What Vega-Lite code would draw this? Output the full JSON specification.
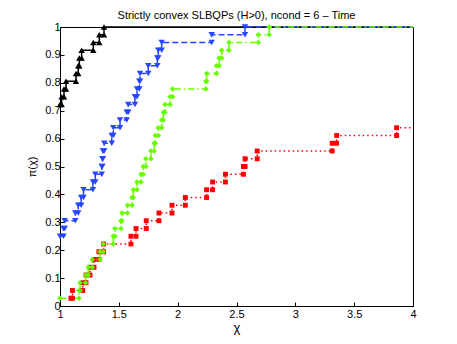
{
  "$schema": "https://vega.github.io/schema/vega-lite/v6.json",
  "width": 353,
  "height": 279,
  "autosize": "none",
  "padding": {"left": 60, "top": 27, "right": 44, "bottom": 38},
  "background": "white",
  "title": {"text": "Strictly convex SLBQPs (H>0), ncond = 6 – Time", "fontSize": 11, "fontWeight": "normal", "font": "Liberation Sans", "color": "black", "offset": 3, "dy": 3},
  "config": {"view": {"stroke": "black", "strokeWidth": 1}},
  "data": {"values": [
    {"s":"P2GP (CG)","x":1,"y":0.7222},{"s":"P2GP (CG)","x":1.014,"y":0.7222},{"s":"P2GP (CG)","x":1.014,"y":0.75},{"s":"P2GP (CG)","x":1.034,"y":0.75},{"s":"P2GP (CG)","x":1.034,"y":0.7778},{"s":"P2GP (CG)","x":1.051,"y":0.7778},{"s":"P2GP (CG)","x":1.051,"y":0.8056},{"s":"P2GP (CG)","x":1.136,"y":0.8056},{"s":"P2GP (CG)","x":1.136,"y":0.8333},{"s":"P2GP (CG)","x":1.155,"y":0.8333},{"s":"P2GP (CG)","x":1.155,"y":0.8611},{"s":"P2GP (CG)","x":1.164,"y":0.8611},{"s":"P2GP (CG)","x":1.164,"y":0.8889},{"s":"P2GP (CG)","x":1.184,"y":0.8889},{"s":"P2GP (CG)","x":1.184,"y":0.9167},{"s":"P2GP (CG)","x":1.283,"y":0.9167},{"s":"P2GP (CG)","x":1.283,"y":0.9444},{"s":"P2GP (CG)","x":1.334,"y":0.9444},{"s":"P2GP (CG)","x":1.334,"y":0.9722},{"s":"P2GP (CG)","x":1.374,"y":0.9722},{"s":"P2GP (CG)","x":1.374,"y":1},{"s":"P2GP (CG)","x":4,"y":1},
    {"s":"P2GP (SDC)","x":1,"y":0.25},{"s":"P2GP (SDC)","x":1.03,"y":0.25},{"s":"P2GP (SDC)","x":1.03,"y":0.2778},{"s":"P2GP (SDC)","x":1.04,"y":0.2778},{"s":"P2GP (SDC)","x":1.04,"y":0.3056},{"s":"P2GP (SDC)","x":1.13,"y":0.3056},{"s":"P2GP (SDC)","x":1.13,"y":0.3333},{"s":"P2GP (SDC)","x":1.155,"y":0.3333},{"s":"P2GP (SDC)","x":1.155,"y":0.3611},{"s":"P2GP (SDC)","x":1.18,"y":0.3611},{"s":"P2GP (SDC)","x":1.18,"y":0.3889},{"s":"P2GP (SDC)","x":1.2,"y":0.3889},{"s":"P2GP (SDC)","x":1.2,"y":0.4167},{"s":"P2GP (SDC)","x":1.28,"y":0.4167},{"s":"P2GP (SDC)","x":1.28,"y":0.4444},{"s":"P2GP (SDC)","x":1.3,"y":0.4444},{"s":"P2GP (SDC)","x":1.3,"y":0.4722},{"s":"P2GP (SDC)","x":1.355,"y":0.4722},{"s":"P2GP (SDC)","x":1.355,"y":0.5},{"s":"P2GP (SDC)","x":1.36,"y":0.5},{"s":"P2GP (SDC)","x":1.36,"y":0.5278},{"s":"P2GP (SDC)","x":1.365,"y":0.5278},{"s":"P2GP (SDC)","x":1.365,"y":0.5556},{"s":"P2GP (SDC)","x":1.376,"y":0.5556},{"s":"P2GP (SDC)","x":1.376,"y":0.5833},{"s":"P2GP (SDC)","x":1.44,"y":0.5833},{"s":"P2GP (SDC)","x":1.44,"y":0.6111},{"s":"P2GP (SDC)","x":1.453,"y":0.6111},{"s":"P2GP (SDC)","x":1.453,"y":0.6389},{"s":"P2GP (SDC)","x":1.51,"y":0.6389},{"s":"P2GP (SDC)","x":1.51,"y":0.6667},{"s":"P2GP (SDC)","x":1.567,"y":0.6667},{"s":"P2GP (SDC)","x":1.567,"y":0.6944},{"s":"P2GP (SDC)","x":1.58,"y":0.6944},{"s":"P2GP (SDC)","x":1.58,"y":0.7222},{"s":"P2GP (SDC)","x":1.637,"y":0.7222},{"s":"P2GP (SDC)","x":1.637,"y":0.75},{"s":"P2GP (SDC)","x":1.654,"y":0.75},{"s":"P2GP (SDC)","x":1.654,"y":0.7778},{"s":"P2GP (SDC)","x":1.674,"y":0.7778},{"s":"P2GP (SDC)","x":1.674,"y":0.8056},{"s":"P2GP (SDC)","x":1.68,"y":0.8056},{"s":"P2GP (SDC)","x":1.68,"y":0.8333},{"s":"P2GP (SDC)","x":1.75,"y":0.8333},{"s":"P2GP (SDC)","x":1.75,"y":0.8611},{"s":"P2GP (SDC)","x":1.827,"y":0.8611},{"s":"P2GP (SDC)","x":1.827,"y":0.8889},{"s":"P2GP (SDC)","x":1.835,"y":0.8889},{"s":"P2GP (SDC)","x":1.835,"y":0.9167},{"s":"P2GP (SDC)","x":1.864,"y":0.9167},{"s":"P2GP (SDC)","x":1.864,"y":0.9444},{"s":"P2GP (SDC)","x":2.289,"y":0.9444},{"s":"P2GP (SDC)","x":2.289,"y":0.9722},{"s":"P2GP (SDC)","x":2.572,"y":0.9722},{"s":"P2GP (SDC)","x":2.572,"y":1},{"s":"P2GP (SDC)","x":4,"y":1},
    {"s":"GPCG–like","x":1.093,"y":0.0278},{"s":"GPCG–like","x":1.106,"y":0.0278},{"s":"GPCG–like","x":1.106,"y":0.0556},{"s":"GPCG–like","x":1.193,"y":0.0556},{"s":"GPCG–like","x":1.193,"y":0.0833},{"s":"GPCG–like","x":1.221,"y":0.0833},{"s":"GPCG–like","x":1.221,"y":0.1111},{"s":"GPCG–like","x":1.255,"y":0.1111},{"s":"GPCG–like","x":1.255,"y":0.1389},{"s":"GPCG–like","x":1.289,"y":0.1389},{"s":"GPCG–like","x":1.289,"y":0.1667},{"s":"GPCG–like","x":1.331,"y":0.1667},{"s":"GPCG–like","x":1.331,"y":0.1944},{"s":"GPCG–like","x":1.37,"y":0.1944},{"s":"GPCG–like","x":1.37,"y":0.2222},{"s":"GPCG–like","x":1.603,"y":0.2222},{"s":"GPCG–like","x":1.603,"y":0.25},{"s":"GPCG–like","x":1.646,"y":0.25},{"s":"GPCG–like","x":1.646,"y":0.2778},{"s":"GPCG–like","x":1.733,"y":0.2778},{"s":"GPCG–like","x":1.733,"y":0.3056},{"s":"GPCG–like","x":1.841,"y":0.3056},{"s":"GPCG–like","x":1.841,"y":0.3333},{"s":"GPCG–like","x":1.952,"y":0.3333},{"s":"GPCG–like","x":1.952,"y":0.3611},{"s":"GPCG–like","x":2.065,"y":0.3611},{"s":"GPCG–like","x":2.065,"y":0.3889},{"s":"GPCG–like","x":2.246,"y":0.3889},{"s":"GPCG–like","x":2.246,"y":0.4167},{"s":"GPCG–like","x":2.297,"y":0.4167},{"s":"GPCG–like","x":2.297,"y":0.4444},{"s":"GPCG–like","x":2.406,"y":0.4444},{"s":"GPCG–like","x":2.406,"y":0.4722},{"s":"GPCG–like","x":2.559,"y":0.4722},{"s":"GPCG–like","x":2.559,"y":0.5},{"s":"GPCG–like","x":2.573,"y":0.5},{"s":"GPCG–like","x":2.573,"y":0.5278},{"s":"GPCG–like","x":2.676,"y":0.5278},{"s":"GPCG–like","x":2.676,"y":0.5556},{"s":"GPCG–like","x":3.313,"y":0.5556},{"s":"GPCG–like","x":3.313,"y":0.5833},{"s":"GPCG–like","x":3.351,"y":0.5833},{"s":"GPCG–like","x":3.351,"y":0.6111},{"s":"GPCG–like","x":3.861,"y":0.6111},{"s":"GPCG–like","x":3.861,"y":0.6389},{"s":"GPCG–like","x":4,"y":0.6389},
    {"s":"PABBmin","x":1,"y":0.0278},{"s":"PABBmin","x":1.161,"y":0.0278},{"s":"PABBmin","x":1.161,"y":0.0556},{"s":"PABBmin","x":1.17,"y":0.0556},{"s":"PABBmin","x":1.17,"y":0.0833},{"s":"PABBmin","x":1.218,"y":0.0833},{"s":"PABBmin","x":1.218,"y":0.1111},{"s":"PABBmin","x":1.24,"y":0.1111},{"s":"PABBmin","x":1.24,"y":0.1389},{"s":"PABBmin","x":1.274,"y":0.1389},{"s":"PABBmin","x":1.274,"y":0.1667},{"s":"PABBmin","x":1.34,"y":0.1667},{"s":"PABBmin","x":1.34,"y":0.1944},{"s":"PABBmin","x":1.368,"y":0.1944},{"s":"PABBmin","x":1.368,"y":0.2222},{"s":"PABBmin","x":1.453,"y":0.2222},{"s":"PABBmin","x":1.453,"y":0.25},{"s":"PABBmin","x":1.467,"y":0.25},{"s":"PABBmin","x":1.467,"y":0.2778},{"s":"PABBmin","x":1.518,"y":0.2778},{"s":"PABBmin","x":1.518,"y":0.3056},{"s":"PABBmin","x":1.527,"y":0.3056},{"s":"PABBmin","x":1.527,"y":0.3333},{"s":"PABBmin","x":1.573,"y":0.3333},{"s":"PABBmin","x":1.573,"y":0.3611},{"s":"PABBmin","x":1.612,"y":0.3611},{"s":"PABBmin","x":1.612,"y":0.3889},{"s":"PABBmin","x":1.623,"y":0.3889},{"s":"PABBmin","x":1.623,"y":0.4167},{"s":"PABBmin","x":1.654,"y":0.4167},{"s":"PABBmin","x":1.654,"y":0.4444},{"s":"PABBmin","x":1.688,"y":0.4444},{"s":"PABBmin","x":1.688,"y":0.4722},{"s":"PABBmin","x":1.708,"y":0.4722},{"s":"PABBmin","x":1.708,"y":0.5},{"s":"PABBmin","x":1.73,"y":0.5},{"s":"PABBmin","x":1.73,"y":0.5278},{"s":"PABBmin","x":1.773,"y":0.5278},{"s":"PABBmin","x":1.773,"y":0.5556},{"s":"PABBmin","x":1.8,"y":0.5556},{"s":"PABBmin","x":1.8,"y":0.5833},{"s":"PABBmin","x":1.81,"y":0.5833},{"s":"PABBmin","x":1.81,"y":0.6111},{"s":"PABBmin","x":1.835,"y":0.6111},{"s":"PABBmin","x":1.835,"y":0.6389},{"s":"PABBmin","x":1.864,"y":0.6389},{"s":"PABBmin","x":1.864,"y":0.6667},{"s":"PABBmin","x":1.878,"y":0.6667},{"s":"PABBmin","x":1.878,"y":0.6944},{"s":"PABBmin","x":1.892,"y":0.6944},{"s":"PABBmin","x":1.892,"y":0.7222},{"s":"PABBmin","x":1.935,"y":0.7222},{"s":"PABBmin","x":1.935,"y":0.75},{"s":"PABBmin","x":1.957,"y":0.75},{"s":"PABBmin","x":1.957,"y":0.7778},{"s":"PABBmin","x":2.24,"y":0.7778},{"s":"PABBmin","x":2.24,"y":0.8056},{"s":"PABBmin","x":2.246,"y":0.8056},{"s":"PABBmin","x":2.246,"y":0.8333},{"s":"PABBmin","x":2.33,"y":0.8333},{"s":"PABBmin","x":2.33,"y":0.8611},{"s":"PABBmin","x":2.353,"y":0.8611},{"s":"PABBmin","x":2.353,"y":0.8889},{"s":"PABBmin","x":2.374,"y":0.8889},{"s":"PABBmin","x":2.374,"y":0.9167},{"s":"PABBmin","x":2.436,"y":0.9167},{"s":"PABBmin","x":2.436,"y":0.9444},{"s":"PABBmin","x":2.685,"y":0.9444},{"s":"PABBmin","x":2.685,"y":0.9722},{"s":"PABBmin","x":2.778,"y":0.9722},{"s":"PABBmin","x":2.778,"y":1},{"s":"PABBmin","x":4,"y":1}
  ]},
  "encoding": {
    "x": {"field": "x", "type": "quantitative", "title": "χ",
      "scale": {"domain": [1, 4], "nice": false, "zero": false},
      "axis": {"orient": "bottom", "values": [1, 1.5, 2, 2.5, 3, 3.5, 4], "format": ".1~f", "grid": false, "tickSize": -4, "labelPadding": 6, "labelFlush": false, "labelOverlap": false, "domainColor": "black", "tickColor": "black", "labelColor": "black", "labelFont": "Liberation Sans", "labelFontSize": 11, "titleFont": "Liberation Sans", "titleFontSize": 13, "titleFontWeight": "normal", "titleColor": "black", "titlePadding": 2}},
    "y": {"field": "y", "type": "quantitative", "title": "π(χ)",
      "scale": {"domain": [0, 1], "nice": false},
      "axis": {"orient": "left", "values": [0, 0.1, 0.2, 0.3, 0.4, 0.5, 0.6, 0.7, 0.8, 0.9, 1], "format": ".1~f", "grid": false, "tickSize": -4, "labelPadding": 4, "labelFlush": false, "labelOverlap": false, "domainColor": "black", "tickColor": "black", "labelColor": "black", "labelFont": "Liberation Sans", "labelFontSize": 11, "titleFont": "Liberation Sans", "titleFontSize": 11, "titleFontWeight": "normal", "titleColor": "black", "titlePadding": 7}}
  },
  "layer": [
    {
      "mark": {"type": "line", "strokeWidth": 1.5},
      "encoding": {
        "color": {"field": "s", "type": "nominal", "legend": null,
          "scale": {"domain": ["P2GP (CG)", "P2GP (SDC)", "GPCG–like", "PABBmin"], "range": ["#000000", "#2846ff", "#ff0000", "#66ff00"]}},
        "strokeDash": {"field": "s", "type": "nominal", "legend": null,
          "scale": {"domain": ["P2GP (CG)", "P2GP (SDC)", "GPCG–like", "PABBmin"], "range": [[1, 0], [6, 3], [1.5, 3], [6, 3, 1.5, 3]]}},
        "order": {"value": null}
      }
    },
    {
      "mark": {"type": "point", "filled": true, "opacity": 1, "shape": "triangle-up", "size": 42},
      "transform": [{"filter": "datum.x < 4 && datum.s === 'P2GP (CG)'"}],
      "encoding": {"color": {"field": "s", "type": "nominal", "legend": null}}
    },
    {
      "mark": {"type": "point", "filled": true, "opacity": 1, "shape": "triangle-down", "size": 42},
      "transform": [{"filter": "datum.x < 4 && datum.s === 'P2GP (SDC)'"}],
      "encoding": {"color": {"field": "s", "type": "nominal", "legend": null}}
    },
    {
      "mark": {"type": "point", "filled": true, "opacity": 1, "shape": "square", "size": 24},
      "transform": [{"filter": "datum.x < 4 && datum.s === 'GPCG–like'"}],
      "encoding": {"color": {"field": "s", "type": "nominal", "legend": null}}
    },
    {
      "mark": {"type": "point", "filled": true, "opacity": 1, "shape": "diamond", "size": 32},
      "transform": [{"filter": "datum.x < 4 && datum.s === 'PABBmin'"}],
      "encoding": {"color": {"field": "s", "type": "nominal", "legend": null}}
    },
    {
      "mark": {"type": "point", "filled": true, "opacity": 0},
      "transform": [{"filter": "datum.x == 4"}],
      "encoding": {
        "color": {"field": "s", "type": "nominal",
          "legend": {"orient": "none", "legendX": 248, "legendY": 217, "title": null, "fillColor": "white", "strokeColor": "black", "padding": 2, "rowPadding": 0, "labelFont": "Liberation Sans", "labelFontSize": 11, "labelColor": "black", "symbolSize": 196, "labelOffset": 14, "symbolOpacity": 1, "symbolStrokeWidth": 0}},
        "shape": {"field": "s", "type": "nominal",
          "scale": {"domain": ["P2GP (CG)", "P2GP (SDC)", "GPCG–like", "PABBmin"], "range": [
            "M-1,-0.11H2.57V0.11H-1ZM0.29,0.43L0.79,-0.43L1.29,0.43Z",
            "M-1,-0.1H-0.2V0.1H-1ZM0.1,-0.1H1.5V0.1H0.1ZM1.8,-0.1H2.57V0.1H1.8ZM0.29,-0.43L0.79,0.43L1.29,-0.43Z",
            "M-1,-0.1H-0.8V0.1H-1ZM-0.5,-0.1H-0.3V0.1H-0.5ZM0,-0.1H0.2V0.1H0ZM1.4,-0.1H1.6V0.1H1.4ZM1.9,-0.1H2.1V0.1H1.9ZM2.37,-0.1H2.57V0.1H2.37ZM0.43,-0.36H1.15V0.36H0.43Z",
            "M-1,-0.1H-0.3V0.1H-1ZM-0.05,-0.1H0.12V0.1H-0.05ZM1.46,-0.1H1.63V0.1H1.46ZM1.87,-0.1H2.57V0.1H1.87ZM0.79,-0.43L1.22,0L0.79,0.43L0.36,0Z"]},
          "legend": {"orient": "none", "legendX": 248, "legendY": 217, "title": null, "fillColor": "white", "strokeColor": "black", "padding": 2, "rowPadding": 0, "labelFont": "Liberation Sans", "labelFontSize": 11, "labelColor": "black", "symbolSize": 196, "labelOffset": 14, "symbolOpacity": 1, "symbolStrokeWidth": 0}}
      }
    }
  ]
}
